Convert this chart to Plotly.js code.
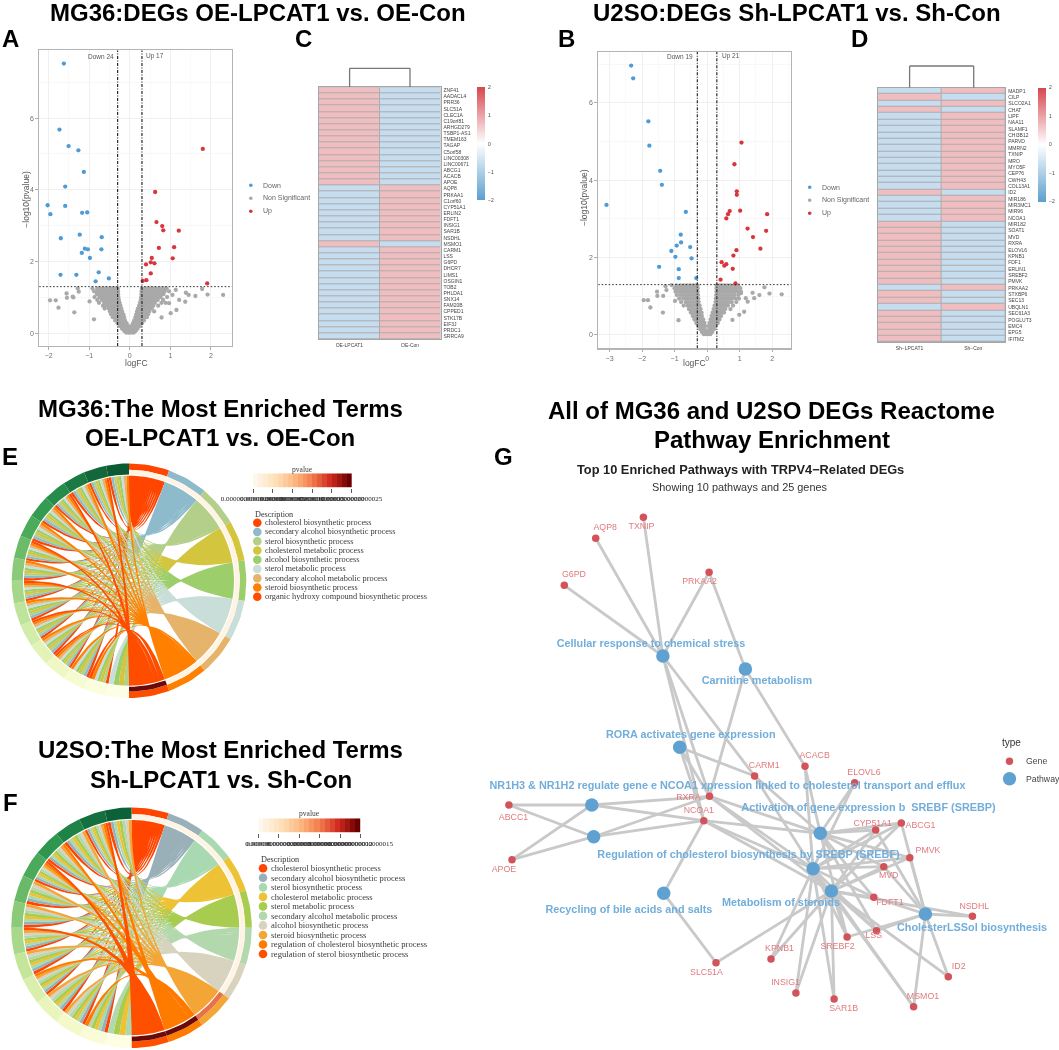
<!DOCTYPE html>
<html><head><meta charset="utf-8">
<script src="https://cdn.plot.ly/plotly-3.0.1.min.js"></script>
<style>html,body{margin:0;padding:0;background:#fff}#p{width:1059px;height:1050px;filter:blur(0.4px)}</style>
</head><body><div id="p"></div>
<script>
// ---------- volcano A ----------
const downAx=[-1.625,-1.733,-1.508,-1.267,-1.133,-1.592,-2.025,-1.592,-1.958,-1.175,-1.05,-1.70,-1.233,-0.692,-1.108,-1.033,-0.70,-1.183,-0.983,-0.767,-1.708,-1.317,-0.517,-0.842];
const downAy=[7.52,5.68,5.22,5.10,4.50,4.09,3.57,3.55,3.32,3.36,3.37,2.65,2.75,2.68,2.36,2.34,2.34,2.24,2.10,1.70,1.63,1.63,1.53,1.45];
const upAx=[1.80,0.625,0.658,0.80,0.825,1.208,1.092,0.717,1.058,0.542,0.517,0.608,0.40,0.517,1.908,0.408,0.317];
const upAy=[5.14,3.94,3.10,2.99,2.87,2.86,2.40,2.38,2.09,2.10,1.98,1.95,1.92,1.67,1.39,1.48,1.46];
const grayRowsA=[
[0.02,[-0.09,-0.04,0,0.05,0.1]],
[0.07,[-0.14,-0.09,-0.05,-0.01,0.04,0.08,0.12,0.15]],
[0.13,[-0.19,-0.14,-0.09,-0.04,0.05,0.1,0.15,0.19]],
[0.2,[-0.24,-0.18,-0.13,-0.08,-0.04,0.04,0.09,0.14,0.19,0.24]],
[0.28,[-0.3,-0.24,-0.18,-0.12,-0.08,0.08,0.13,0.19,0.24,0.3]],
[0.36,[-0.36,-0.3,-0.24,-0.18,-0.12,0.11,0.16,0.22,0.28,0.35]],
[0.45,[-0.42,-0.36,-0.3,-0.24,-0.18,-0.14,0.14,0.19,0.25,0.31,0.37,0.42]],
[0.53,[-0.46,-0.4,-0.34,-0.28,-0.22,-0.16,0.16,0.22,0.28,0.34,0.4,0.45]],
[0.61,[-0.49,-0.43,-0.37,-0.31,-0.25,-0.19,0.18,0.24,0.3,0.36,0.42,0.48,0.6]],
[0.69,[-0.62,-0.52,-0.46,-0.4,-0.34,-0.28,-0.21,0.2,0.26,0.32,0.38,0.44,0.5,0.54]],
[0.77,[-0.66,-0.57,-0.51,-0.45,-0.39,-0.33,-0.28,-0.23,0.23,0.29,0.35,0.41,0.47,0.53,0.58,0.7]],
[0.85,[-0.76,-0.63,-0.57,-0.5,-0.44,-0.38,-0.32,-0.25,0.25,0.31,0.37,0.43,0.49,0.55,0.62,0.78,0.88]],
[0.93,[-0.8,-0.69,-0.63,-0.56,-0.5,-0.44,-0.38,-0.32,-0.27,0.27,0.33,0.39,0.45,0.51,0.57,0.63,0.69,0.82]],
[1.01,[-0.87,-0.75,-0.69,-0.62,-0.56,-0.5,-0.44,-0.38,-0.32,-0.28,0.28,0.34,0.4,0.46,0.52,0.58,0.64,0.7,0.76,0.92]],
[1.09,[-0.81,-0.75,-0.69,-0.63,-0.57,-0.51,-0.45,-0.39,-0.33,-0.29,0.29,0.35,0.41,0.47,0.53,0.59,0.65,0.71,0.77,0.83]],
[1.17,[-0.88,-0.82,-0.74,-0.68,-0.62,-0.56,-0.5,-0.44,-0.38,-0.32,-0.29,0.29,0.35,0.41,0.47,0.53,0.59,0.65,0.71,0.79,0.86,0.97]],
[1.25,[-0.92,-0.8,-0.72,-0.64,-0.57,-0.5,-0.43,-0.36,-0.3,0.3,0.37,0.44,0.51,0.58,0.65,0.74,0.83,0.91]]
];
const strayAx=[-1.967,-1.825,-1.758,-1.558,-1.55,-1.408,-1.39,-1.367,-1.258,-1.283,-0.992,-0.883,2.3,1.917,1.783,1.617,1.45,1.383,1.367,1.217,1.15,1.008,0.783,1.05,1.133,0.967];
const strayAy=[0.92,0.92,0.715,1.11,0.99,1.02,1.0,0.585,1.16,1.25,0.89,0.39,1.07,1.08,1.235,1.04,1.07,1.13,0.88,0.93,0.65,0.56,0.44,1.07,1.21,0.84];
// ---------- volcano B ----------
const downBx=[-2.336,-2.274,-1.807,-1.776,-1.443,-1.391,-3.095,-0.654,-0.81,-0.80,-0.935,-0.519,-1.10,-0.976,-0.478,-1.475,-0.872,-0.872,-0.332];
const downBy=[6.96,6.63,5.52,4.89,4.24,3.88,3.36,3.18,2.59,2.39,2.31,2.27,2.17,2.02,1.98,1.76,1.70,1.47,1.47];
const upBx=[1.059,0.841,0.914,0.914,0.696,0.644,1.018,1.848,0.592,1.246,1.817,1.412,1.641,0.903,0.81,0.447,0.592,0.53,0.789,0.415,0.872];
const upBy=[4.97,4.41,3.71,3.62,3.20,3.12,3.21,3.12,3.01,2.75,2.69,2.53,2.23,2.19,2.05,1.88,1.83,1.79,1.71,1.43,1.33];
const grayRowsB=[
[0.02,[-0.1,-0.03,0.03,0.1]],
[0.08,[-0.16,-0.09,-0.03,0.04,0.1,0.16]],
[0.15,[-0.21,-0.14,-0.07,0.07,0.14,0.21]],
[0.23,[-0.27,-0.2,-0.13,-0.06,0.05,0.12,0.19,0.26]],
[0.31,[-0.33,-0.26,-0.19,-0.13,-0.08,0.08,0.14,0.21,0.27,0.33]],
[0.4,[-0.39,-0.32,-0.25,-0.18,-0.12,0.11,0.17,0.24,0.31,0.38]],
[0.49,[-0.44,-0.37,-0.3,-0.23,-0.16,0.14,0.21,0.28,0.35,0.43]],
[0.58,[-0.5,-0.42,-0.35,-0.28,-0.21,-0.17,0.17,0.24,0.31,0.38,0.45,0.52]],
[0.67,[-0.56,-0.49,-0.42,-0.34,-0.27,-0.2,0.2,0.27,0.34,0.41,0.48,0.56,0.72]],
[0.76,[-0.72,-0.6,-0.53,-0.46,-0.38,-0.3,-0.23,0.23,0.3,0.37,0.44,0.51,0.58,0.64,0.8]],
[0.85,[-0.8,-0.66,-0.59,-0.51,-0.43,-0.35,-0.26,0.26,0.33,0.4,0.47,0.54,0.61,0.68,0.76,0.9]],
[0.94,[-0.86,-0.74,-0.66,-0.58,-0.5,-0.42,-0.34,-0.27,0.27,0.34,0.41,0.48,0.55,0.62,0.69,0.77,0.88,0.98]],
[1.03,[-0.93,-0.82,-0.74,-0.66,-0.58,-0.5,-0.42,-0.34,-0.28,0.28,0.36,0.44,0.52,0.6,0.68,0.76,0.84,0.96]],
[1.12,[-0.97,-0.88,-0.8,-0.72,-0.64,-0.56,-0.48,-0.4,-0.32,-0.29,0.29,0.37,0.45,0.53,0.61,0.69,0.77,0.85,0.94,1.04]],
[1.21,[-1.0,-0.91,-0.83,-0.75,-0.67,-0.59,-0.51,-0.43,-0.35,-0.29,0.29,0.36,0.44,0.52,0.6,0.68,0.76,0.84,0.92,1.02]],
[1.28,[-0.94,-0.82,-0.72,-0.62,-0.52,-0.42,-0.34,-0.3,0.3,0.37,0.45,0.53,0.62,0.72,0.84,0.96]]
];
const strayBx=[-1.95,-1.82,-1.745,-1.54,-1.53,-1.35,-1.36,-1.25,-1.28,-0.986,-0.88,-1.09,2.295,1.92,1.765,1.61,1.40,1.45,1.25,1.19,1.14,0.99,1.04,0.78];
const strayBy=[0.90,0.90,0.71,1.12,1.01,1.01,0.58,1.16,1.26,0.88,0.38,1.29,1.05,1.07,1.23,1.03,1.09,0.95,0.86,0.95,0.60,0.52,1.08,0.39];
// ---------- heatmaps ----------
const genesC=["ZNF41","AADACL4","PRR36","SLC51A","CLEC1A","C19orf81","ARHGD279","TSBP1-AS1","TMEM163","TAGAP","C5orf58","LINC00308","LINC00671","ABCG1","ACACB","APOE","AQP8","PRKAA1","C1orf60","CYP51A1","ERLIN2","FDFT1","INSIG1","SAR1B","NSDHL","MSMO1","CARM1","LSS","G6PD","DHCR7","LIMS1","OSGIN1","TOB2","PHLDA1","SNX14","FAM20B","CPPED1","STK17B","EIF3J","PRDC1","SRRCA9"];
const oeLpcat1=[.71,.71,.71,.71,.71,.71,.71,.71,.71,.71,.71,.71,.71,.71,.71,.71,-.71,-.71,-.71,-.71,-.71,-.71,-.71,-.71,-.71,.71,-.71,-.71,-.71,-.71,-.71,-.71,-.71,-.71,-.71,-.71,-.71,-.71,-.71,-.71,-.71];
const oeCon=[-.71,-.71,-.71,-.71,-.71,-.71,-.71,-.71,-.71,-.71,-.71,-.71,-.71,-.71,-.71,-.71,.71,.71,.71,.71,.71,.71,.71,.71,.71,-.71,.71,.71,.71,.71,.71,.71,.71,.71,.71,.71,.71,.71,.71,.71,.71];
const genesD=["MADP1","CILP","SLCO2A1","CHAT","LIPF","NAA11","SLAMF1","CHI3B12","PARVD","MMRN2","TXNIP","MRO","MYO5F","CEP76","CWH43","COL13A1","ID2","MIR186","MIR3MC1","MIR96","NCOA1","MIR182","SOAT1","MVD","RXRA","ELOVL6","KPNB1","FDF1","ERLIN1","SREBF2","PMVK","PRKAA2","STXBP6","SEC13","UBQLN1","SEC61A3","POGLUT3","EMC4","EPG5","IFITM2"];
const shLpcat1=[-.71,.71,-.71,.71,-.71,-.71,-.71,-.71,-.71,-.71,-.71,-.71,-.71,-.71,-.71,-.71,.71,-.71,-.71,-.71,-.71,.71,.71,.71,.71,.71,.71,.71,.71,.71,.71,-.71,.71,.71,-.71,.71,.71,.71,.71,.71];
const shCon=[.71,-.71,.71,-.71,.71,.71,.71,.71,.71,.71,.71,.71,.71,.71,.71,.71,-.71,.71,.71,.71,.71,-.71,-.71,-.71,-.71,-.71,-.71,-.71,-.71,-.71,-.71,.71,-.71,-.71,.71,-.71,-.71,-.71,-.71,-.71];
// ---------- chord E ----------
const termsE=["cholesterol biosynthetic process","secondary alcohol biosynthetic process","sterol biosynthetic process","cholesterol metabolic process","alcohol biosynthetic process","sterol metabolic process","secondary alcohol metabolic process","steroid biosynthetic process","organic hydroxy compound biosynthetic process"];
const termColorsE=["#FF4500","#8DBBCC","#B4CF89","#D3C63E","#9CCE6B","#C9DED8","#E6B36A","#FF8000","#FF4D00"];
const termPvalColorsE=["#fff3e4","#fff3e4","#fff3e4","#fff3e4","#fff3e4","#fff3e4","#fff3e4","#fff3e4","#6b0a0a"];
const geneTermsE=["01234567","012345678","01234567","012345678","01234567","01234567","012345678","01234567","012345678","01234567","012345678","01234567","012345678","0123457","0234578","2345"];
const geneColorsE=["#0b5a33","#12683b","#1b7a43","#258c4c","#339c52","#4cab5a","#6cbb68","#8bca78","#a5d78a","#bee39a","#d2ecaa","#e3f3b8","#eff8c5","#f7fbd2","#fbfddd","#fdfee6"];
const pvalTicksE=["0.00000000000000000","0.00000000000000005","0.00000000000000010","0.00000000000000015","0.00000000000000020","0.0000000000000025"];
// ---------- chord F ----------
const termsF=["cholesterol biosynthetic process","secondary alcohol biosynthetic process","sterol biosynthetic process","cholesterol metabolic process","sterol metabolic process","secondary alcohol metabolic process","alcohol biosynthetic process","steroid biosynthetic process","regulation of cholesterol biosynthetic process","regulation of sterol biosynthetic process"];
const termColorsF=["#FF4500","#9AB0B8","#A9D9B0","#EDC234","#A8CC50","#B3D8AD","#D8D3BE","#F3A535","#FF7B00","#FF5000"];
const termPvalColorsF=["#fff3e4","#fff3e4","#fff3e4","#fff3e4","#fff3e4","#fff3e4","#fff3e4","#e8704a","#6b0a0a","#6b0a0a"];
const geneTermsF=["01234567","0123456789","01234567","012345678","0123456789","01234567","01234567","012345679","01234567","012345678","01234567","01234567","0123458","2345"];
const geneColorsF=["#0c6238","#14703f","#1f8347","#2f9650","#4aa95a","#69ba68","#8bca78","#a8d98b","#c3e69b","#d9efab","#e9f5bb","#f3f9c9","#f9fcd6","#fdfee3"];
const pvalTicksF=["0.000000","0.00000000000000003","0.00000000000000006","0.00000000000000009","0.00000000000000012","0.00000000000000015"];
const pvalSteps=[0,1,2,3,4,5,6,7,8,9,10,11,12,13,14,15,16,17,18,19];
// ---------- network ----------
const geneNames=["TXNIP","AQP8","G6PD","PRKAA2","CARM1","ACACB","ELOVL6","RXRA","NCOA1","ABCC1","APOE","CYP51A1","ABCG1","PMVK","MVD","FDFT1","NSDHL","LSS","SREBF2","KPNB1","SLC51A","INSIG1","SAR1B","MSMO1","ID2"];
const geneX=[643.4,595.7,564.3,709.1,754.6,805,854.7,709.5,703.8,508.9,512,875.7,901.3,909.8,883.8,873.8,972.4,876.5,847.1,771,716,795.9,834.1,913.6,948.3];
const geneY=[517.3,538.3,585.3,572.3,776,766.3,782.7,796.3,820.7,805,859.7,830,823,857.7,866.7,897.3,916.3,930.7,937,959,962.7,993,999,1006.7,976.7];
const geneLabelX=[641.5,605.2,573.9,699.6,764.2,814.6,863.9,688.5,698.8,513.5,503.9,872.7,920.5,928,888.7,889.9,974.3,873.8,837.5,779.5,706.5,785.6,843.6,923,958.7];
const geneLabelY=[527.3,528,575.3,582.3,765.7,756.3,772.7,798.3,810.7,817.7,870,823.7,826,850.7,876,903,906.7,936,947,949.3,972.7,982.7,1008.7,996.7,967];
const pathX=[662.9,745.4,679.7,591.8,593.7,820.3,813.1,831.4,663.7,925.4];
const pathY=[656,669,747.3,805,836.7,833.3,868.7,891,893.3,914];
const pathNames=["Cellular response to chemical stress","Carnitine metabolism","RORA activates gene expression","NR1H3 &amp; NR1H2 regulate gene e NCOA1 xpression linked to cholesterol transport and efflux","","Activation of gene expression b  SREBF (SREBP)","Regulation of cholesterol biosynthesis by SREBP (SREBF)","Metabolism of steroids","Recycling of bile acids and salts","CholesterLSSol biosynthesis"];
const pathLabelX=[651,756.9,690.8,727.5,593.7,868.5,748.5,781,628.9,972];
const pathLabelY=[644,681.7,735.3,786.7,836.7,808.3,855.3,903.3,910,928.3];
const pathGenes=[
 ["TXNIP","AQP8","G6PD","PRKAA2","RXRA","NCOA1","CARM1"],
 ["PRKAA2","RXRA","ACACB"],
 ["RXRA","NCOA1","CARM1"],
 ["ABCC1","APOE","RXRA","NCOA1"],
 ["ABCC1","APOE","RXRA","NCOA1"],
 ["RXRA","NCOA1","CARM1","ELOVL6","ACACB","CYP51A1","ABCG1","PMVK","MVD","FDFT1","SREBF2","LSS"],
 ["RXRA","NCOA1","ELOVL6","ACACB","CYP51A1","ABCG1","PMVK","MVD","FDFT1","KPNB1","INSIG1","SAR1B","SREBF2","MSMO1","LSS","CARM1"],
 ["RXRA","NCOA1","SLC51A","NSDHL","INSIG1","SAR1B","KPNB1","MSMO1","ID2","LSS","CYP51A1","ABCG1","PMVK","MVD","FDFT1","SREBF2"],
 ["NCOA1","SLC51A"],
 ["NSDHL","LSS","FDFT1","MVD","PMVK","CYP51A1","ABCG1","MSMO1","ID2","SREBF2"]
];
// ---------- helpers ----------
const W=1059,H=1050;
const dx=(a,b)=>[a/W,b/W], dy=(a,b)=>[1-b/H,1-a/H];
const SANS='"Liberation Sans",Arial,sans-serif', SERIF='"Liberation Serif","Times New Roman",serif';
const traces=[],shapes=[],annos=[];
function txt(t,x,y,size,color,anchor,family){annos.push({text:t,xref:'paper',yref:'paper',x:x/W,y:1-y/H,xanchor:anchor||'center',yanchor:'middle',showarrow:false,font:{size:size,color:color||'#000',family:family||SANS}});}
function flat(rows,sx,sy){const X=[...sx],Y=[...sy];rows.forEach(r=>r[1].forEach(v=>{X.push(v);Y.push(r[0]);}));return [X,Y];}
const layout={width:W,height:H,margin:{l:0,r:0,t:0,b:0},paper_bgcolor:'#fff',plot_bgcolor:'rgba(0,0,0,0)',showlegend:false,hovermode:false,font:{family:SANS},shapes:shapes,annotations:annos};
function volcano(id,box,xr,yr,dn,up,gray,labels,titlePos){
 const xa='xaxis'+id,ya='yaxis'+id,xk='x'+id,yk='y'+id;
 const tk={tickfont:{size:7,color:'#6e6e6e'},ticks:'outside',ticklen:2.5,tickcolor:'#999',tickwidth:.8,showline:true,mirror:true,linecolor:'#b4b4b4',linewidth:1.3,gridcolor:'#ececec',gridwidth:.8,zeroline:false,tickangle:0};
 layout[xa]=Object.assign({domain:dx(box[0],box[1]),range:xr,anchor:yk,dtick:1,minor:{dtick:.5,showgrid:true,gridcolor:'#f6f6f6',gridwidth:.5}},tk);
 layout[ya]=Object.assign({domain:dy(box[2],box[3]),range:yr,anchor:xk,dtick:2,minor:{dtick:1,showgrid:true,gridcolor:'#f4f4f4',gridwidth:.6}},tk);
 traces.push({type:'scatter',mode:'markers',xaxis:xk,yaxis:yk,x:gray[0],y:gray[1],marker:{size:4.3,color:'#a9a9a9'},cliponaxis:false});
 traces.push({type:'scatter',mode:'markers',xaxis:xk,yaxis:yk,x:dn[0],y:dn[1],marker:{size:4.3,color:'#4f9bd5'}});
 traces.push({type:'scatter',mode:'markers',xaxis:xk,yaxis:yk,x:up[0],y:up[1],marker:{size:4.3,color:'#d8363c'}});
 [-0.3,0.3].forEach(v=>shapes.push({type:'line',xref:xk,yref:yk,x0:v,x1:v,y0:yr[0],y1:yr[1],line:{color:'#2a2a2a',width:1.2,dash:'3px,1.5px,1px,1.5px'}}));
 shapes.push({type:'line',xref:xk,yref:yk,x0:xr[0],x1:xr[1],y0:1.301,y1:1.301,line:{color:'#2a2a2a',width:1,dash:'1.5px,2px'}});
 txt(labels[0],labels[1],56.5,6.5,'#555','right');txt(labels[2],labels[3],56.5,6.5,'#555','left');
 txt('logFC',titlePos[0],362.5,8.5,'#555');
 annos.push({text:'−log10(pvalue)',xref:'paper',yref:'paper',x:titlePos[1]/W,y:1-titlePos[2]/H,textangle:-90,showarrow:false,xanchor:'center',yanchor:'middle',font:{size:8.5,color:'#555',family:SANS}});
 const lx=titlePos[3];
 [['Down','#4f9bd5'],['Non Significant','#a9a9a9'],['Up','#d8363c']].forEach((e,i)=>{const y=titlePos[4]+13*i;
  shapes.push({type:'circle',xref:'paper',yref:'paper',x0:(lx-1.8)/W,x1:(lx+1.8)/W,y0:1-(y+1.8)/H,y1:1-(y-1.8)/H,fillcolor:e[1],line:{width:0}});
  txt(e[0],lx+10,y,7,'#666','left');});
}
volcano('',[39.2,231.9,50.3,346],[-2.233,2.517],[-0.354,7.89],[downAx,downAy],[upAx,upAy],flat(grayRowsA,strayAx,strayAy),['Down 24',115.6,'Up 17',143.7],[136,25.7,199,250.8,185.3]);
volcano('2',[598.2,791.1,52,348.3],[-3.35,2.585],[-0.344,7.31],[downBx,downBy],[upBx,upBy],flat(grayRowsB,strayBx,strayBy),['Down 19',694.5,'Up 21',719.5],[694,584,198,809.7,187.3]);

function heat(id,box,cols,genes,vals,cb,dend){
 const xa='xaxis'+id,ya='yaxis'+id,xk='x'+id,yk='y'+id;
 layout[xa]={domain:dx(box[0],box[1]),anchor:yk,tickmode:'array',tickvals:[0,1],ticktext:cols,range:[-.5,1.5],ticks:'',showgrid:false,zeroline:false,tickfont:{size:5,color:'#444'},showline:true,mirror:true,linecolor:'#a6a6a6',linewidth:1,ticklabelstandoff:1};
 layout[ya]={domain:dy(box[2],box[3]),anchor:xk,side:'right',tickmode:'array',tickvals:genes.map((g,i)=>i),ticktext:genes,range:[genes.length-.5,-.5],ticks:'',showgrid:false,zeroline:false,tickfont:{size:5,color:'#444'},showline:true,mirror:true,linecolor:'#a6a6a6',linewidth:1,ticklabelstandoff:1};
 shapes.push({type:'rect',xref:'paper',yref:'paper',layer:'below',x0:box[0]/W,x1:box[1]/W,y0:1-box[3]/H,y1:1-box[2]/H,fillcolor:'#acacac',line:{width:0}});
 const z=genes.map((g,i)=>[vals[0][i],vals[1][i]]);
 traces.push({type:'heatmap',xaxis:xk,yaxis:yk,z:z,x:[0,1],y:genes.map((g,i)=>i),zmin:-2,zmax:2,xgap:1,ygap:1,
  colorscale:[[0,'#5b9fcf'],[.5,'#ffffff'],[1,'#d6474e']],
  colorbar:{x:cb[0]/W,xanchor:'left',xref:'paper',y:1-cb[1]/H,yanchor:'top',yref:'paper',lenmode:'pixels',len:cb[2],thicknessmode:'pixels',thickness:7.5,outlinewidth:0,ticks:'outside',ticklen:2.5,tickcolor:'rgba(0,0,0,0)',tickmode:'array',tickvals:[-2,-1,0,1,2],tickfont:{size:5,color:'#444'},xpad:0,ypad:0,borderwidth:0}});
 const p=[[dend[0],dend[3]],[dend[0],dend[2]],[dend[1],dend[2]],[dend[1],dend[3]]];
 for(let i=0;i<3;i++)shapes.push({type:'line',xref:'paper',yref:'paper',x0:p[i][0]/W,x1:p[i+1][0]/W,y0:1-p[i][1]/H,y1:1-p[i+1][1]/H,line:{color:'#777',width:1.3}});
}
heat('3',[319,440.5,87.3,339.3],['OE-LPCAT1','OE-Con'],genesC,[oeLpcat1,oeCon],[477.3,87.3,113],[349.6,410,68.3,87]);
heat('4',[877.6,1005.2,87.7,342],['Sh−LPCAT1','Sh−Con'],genesD,[shLpcat1,shCon],[1037.8,87.7,113.5],[909.6,973.7,66,87.7]);

// chord
function pt(r,th){const t=th*Math.PI/180;return [r*Math.sin(t),r*Math.cos(t)];}
function ring(X,Y,r0,r1,a,b){for(let i=0;i<=8;i++){const p=pt(r1,a+(b-a)*i/8);X.push(p[0]);Y.push(p[1]);}
 for(let i=8;i>=0;i--){const p=pt(r0,a+(b-a)*i/8);X.push(p[0]);Y.push(p[1]);}X.push(null);Y.push(null);}
function chord(id,cx,cy,R,terms,tCol,pCol,geneTerms,gCol){
 const xk='x'+id,yk='y'+id,h=R+2;
 layout['xaxis'+id]={domain:dx(cx-h,cx+h),range:[-h,h],visible:false,anchor:yk,fixedrange:true};
 layout['yaxis'+id]={domain:dy(cy-h,cy+h),range:[-h,h],visible:false,anchor:xk,fixedrange:true};
 const rib=R*0.895,inner=R*0.905,mid=R*0.945,wT=180/terms.length,wG=180/geneTerms.length;
 const lists=terms.map((t,i)=>geneTerms.map((s,g)=>s.includes(String(i))?g:-1).filter(g=>g>=0));
 terms.forEach((t,i)=>{
  const X=[],Y=[];
  const L=lists[i];
  L.forEach((g,k)=>{
   // both ends run crosswise, so each bundle pinches to a waist before fanning out
   const a1=i*wT+(L.length-1-k)*wT/L.length,a2=a1+wT/L.length;
   const s=geneTerms[g],n=s.length,pos=n-1-s.indexOf(String(i));
   const top=360-g*wG,b2=top-pos*wG/n,b1=b2-wG/n;
   for(let j=0;j<=3;j++){const p=pt(rib,a1+(a2-a1)*j/3);X.push(p[0]);Y.push(p[1]);}
   const A=pt(rib,a2),B=pt(rib,b1);
   for(let j=1;j<=22;j++){const u=j/22,v=1-u;X.push(v*v*A[0]+u*u*B[0]);Y.push(v*v*A[1]+u*u*B[1]);}
   for(let j=1;j<=3;j++){const p=pt(rib,b1+(b2-b1)*j/3);X.push(p[0]);Y.push(p[1]);}
   const C=pt(rib,b2),D=pt(rib,a1);
   for(let j=1;j<=22;j++){const u=j/22,v=1-u;X.push(v*v*C[0]+u*u*D[0]);Y.push(v*v*C[1]+u*u*D[1]);}
   X.push(null);Y.push(null);
  });
  traces.push({type:'scatter',mode:'lines',fill:'toself',xaxis:xk,yaxis:yk,x:X,y:Y,line:{width:0},fillcolor:tCol[i]});
  const OX=[],OY=[];ring(OX,OY,mid,R,i*wT,(i+1)*wT);
  traces.push({type:'scatter',mode:'lines',fill:'toself',xaxis:xk,yaxis:yk,x:OX,y:OY,line:{width:0},fillcolor:tCol[i]});
  const PX=[],PY=[];ring(PX,PY,inner,mid,i*wT,(i+1)*wT);
  traces.push({type:'scatter',mode:'lines',fill:'toself',xaxis:xk,yaxis:yk,x:PX,y:PY,line:{width:0},fillcolor:pCol[i]});
 });
 geneTerms.forEach((s,g)=>{const X=[],Y=[];ring(X,Y,inner,R,360-(g+1)*wG,360-g*wG);
  traces.push({type:'scatter',mode:'lines',fill:'toself',xaxis:xk,yaxis:yk,x:X,y:Y,line:{width:0},fillcolor:gCol[g]});});
}
chord('5',129,580.7,117.3,termsE,termColorsE,termPvalColorsE,geneTermsE,geneColorsE);
chord('6',131.5,927.7,120.3,termsF,termColorsF,termPvalColorsF,geneTermsF,geneColorsF);
function pvalBar(id,box,ticks,tv){
 const xk='x'+id,yk='y'+id;
 layout['xaxis'+id]={domain:dx(box[0],box[1]),range:[-.5,19.5],anchor:yk,showgrid:false,zeroline:false,ticks:'outside',ticklen:4,tickcolor:'#333',tickwidth:.8,tickmode:'array',tickvals:tv,ticktext:ticks,tickangle:0,tickfont:{size:7,color:'#222',family:SERIF},showline:false};
 layout['yaxis'+id]={domain:dy(box[2],box[3]),range:[-.5,.5],anchor:xk,visible:false,fixedrange:true};
 traces.push({type:'heatmap',xaxis:xk,yaxis:yk,z:[pvalSteps],zmin:0,zmax:19,showscale:false,
  colorscale:[[0,'#fff7ec'],[.2,'#fee2bb'],[.4,'#fdbb84'],[.6,'#f47d4d'],[.8,'#cf2a1f'],[1,'#6b0000']]});
}
pvalBar('7',[253,351.7,473.3,487.7],pvalTicksE,[-.5,3.5,7.5,11.5,15.5,19.5]);
pvalBar('8',[258.3,360.7,818.3,832.7],pvalTicksF,[-.5,3.5,7.5,11.5,15.5,19.5]);
function chordLegend(terms,cols,x,yDesc,y0,step,size,cbY,cbX){
 txt('pvalue',cbX,cbY,7.6,'#444','center',SERIF);
 txt('Description',x-4,yDesc,8.2,'#333','left',SERIF);
 terms.forEach((t,i)=>{const y=y0+step*i;
  shapes.push({type:'circle',xref:'paper',yref:'paper',x0:(x-4.3)/W,x1:(x+4.3)/W,y0:1-(y+4.3)/H,y1:1-(y-4.3)/H,fillcolor:cols[i],line:{width:0}});
  txt(t,x+6,y,size,'#3a3a3a','left',SERIF);});
}
chordLegend(termsE,termColorsE,257.3,514.7,522.7,9.25,8.35,469.3,302);
chordLegend(termsF,termColorsF,263,859.7,868.3,9.52,8.6,813.7,309);

// network
layout.xaxis9={domain:dx(460,1059),range:[460,1059],visible:false,anchor:'y9',fixedrange:true};
layout.yaxis9={domain:dy(500,1050),range:[1050,500],visible:false,anchor:'x9',fixedrange:true};
const ex=[],ey=[];
pathGenes.forEach((l,i)=>l.forEach(g=>{const k=geneNames.indexOf(g);ex.push(pathX[i],geneX[k],null);ey.push(pathY[i],geneY[k],null);}));
traces.push({type:'scatter',mode:'lines',xaxis:'x9',yaxis:'y9',x:ex,y:ey,line:{color:'#c9c9c9',width:2.8}});
traces.push({type:'scatter',mode:'markers',xaxis:'x9',yaxis:'y9',x:geneX,y:geneY,marker:{size:7.5,color:'#d2545a'}});
traces.push({type:'scatter',mode:'markers',xaxis:'x9',yaxis:'y9',x:pathX,y:pathY,marker:{size:13.5,color:'#5fa2d2'}});
traces.push({type:'scatter',mode:'text',xaxis:'x9',yaxis:'y9',x:geneLabelX,y:geneLabelY,text:geneNames,textposition:'middle center',textfont:{size:8.8,color:'#e07a7e',family:SANS},cliponaxis:false});
traces.push({type:'scatter',mode:'text',xaxis:'x9',yaxis:'y9',x:pathLabelX,y:pathLabelY,text:pathNames,textposition:'middle center',textfont:{size:10.85,color:'#72aedb',family:SANS,weight:700},cliponaxis:false});
txt('type',1011.4,742.7,10,'#333');
[['Gene','#d2545a',3.7,761.3],['Pathway','#5fa2d2',6.7,778.7]].forEach(e=>{
 shapes.push({type:'circle',xref:'paper',yref:'paper',x0:(1009.5-e[2])/W,x1:(1009.5+e[2])/W,y0:1-(e[3]+e[2])/H,y1:1-(e[3]-e[2])/H,fillcolor:e[1],line:{width:0}});
 txt(e[0],1023.6,e[3],8.7,'#444','left');});

// titles
[['MG36:DEGs OE-LPCAT1 vs. OE-Con',257.8,12],['U2SO:DEGs Sh-LPCAT1 vs. Sh-Con',796.5,12],['MG36:The Most Enriched Terms',220,408],['OE-LPCAT1 vs. OE-Con',220,437],['U2SO:The Most Enriched Terms',220,749],['Sh-LPCAT1 vs. Sh-Con',220.8,779],['All of MG36 and U2SO DEGs Reactome',771.5,410.7],['Pathway Enrichment',772,439]].forEach(t=>txt('<b>'+t[0]+'</b>',t[1],t[2],24));
[['A',10.3,38],['C',303,38.5],['B',566,38],['D',859.5,38.5],['E',10,457],['F',10,802],['G',503,456]].forEach(t=>txt('<b>'+t[0]+'</b>',t[1],t[2],24));
txt('<b>Top 10 Enriched Pathways with TRPV4−Related DEGs</b>',740,470,12.8,'#222');
txt('Showing 10 pathways and 25 genes',740,487,10.9,'#333');

Plotly.newPlot('p',traces,layout,{displayModeBar:false,staticPlot:true});
</script></body></html>
